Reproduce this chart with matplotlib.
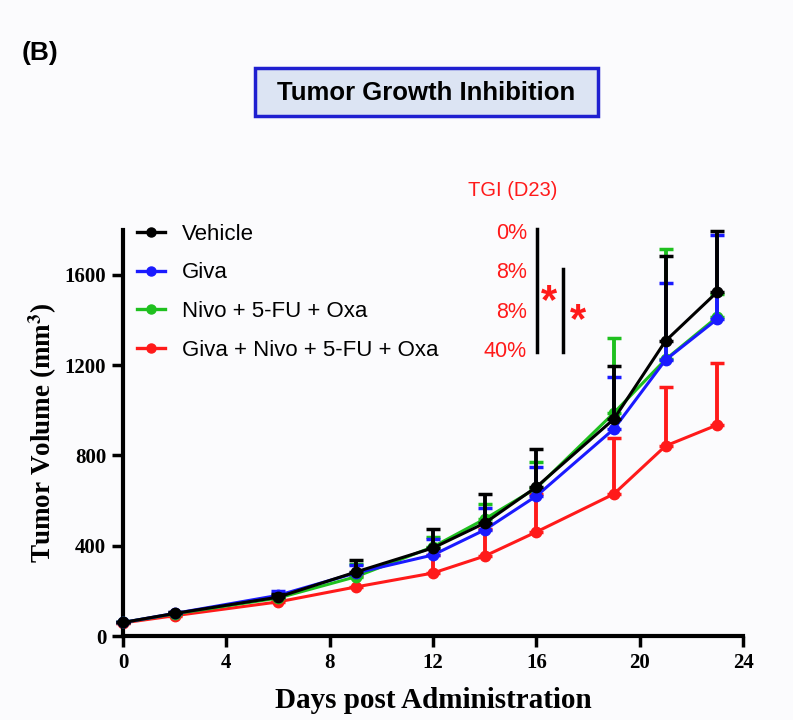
import matplotlib
matplotlib.use("Agg")
import matplotlib.pyplot as plt
import numpy as np
from matplotlib.lines import Line2D
from matplotlib.patches import Rectangle

plt.rcParams['mathtext.fontset'] = 'stix'

days = [0, 2, 6, 9, 12, 14, 16, 19, 21, 23]

vehicle = [60, 100, 172, 283, 390, 500, 660, 961, 1307, 1524]
vehicle_err = [0, 5, 15, 54, 84, 129, 168, 235, 377, 270]

giva = [60, 100, 180, 279, 359, 470, 620, 917, 1223, 1404]
giva_err = [0, 5, 18, 36, 71, 97, 128, 230, 341, 373]

nivo = [60, 98, 168, 262, 395, 518, 655, 988, 1225, 1413]
nivo_err = [0, 5, 12, 56, 44, 67, 116, 332, 490, 100]

combo = [58, 90, 151, 217, 279, 354, 461, 629, 842, 935]
combo_err = [0, 5, 10, 50, 80, 120, 170, 248, 261, 275]

labels = ["Vehicle", "Giva", "Nivo + 5-FU + Oxa", "Giva + Nivo + 5-FU + Oxa"]
tgi = ["0%", "8%", "8%", "40%"]
colors = ["#000000", "#1a1aff", "#1fc01f", "#ff1a1a"]

W, H = 793, 720
fig = plt.figure(figsize=(W / 100, H / 100), dpi=100)
fig.patch.set_facecolor('#fbfbfd')

def fx(px):
    return px / W

def fy(py):
    return 1 - py / H

ax = fig.add_axes([fx(123), fy(636), fx(743) - fx(123), fy(229.7) - fy(636)])
ax.set_facecolor('none')

series = [
    (combo, combo_err, colors[3], 2),
    (nivo, nivo_err, colors[2], 3),
    (giva, giva_err, colors[1], 4),
    (vehicle, vehicle_err, colors[0], 5),
]
for vals, err, c, z in series:
    v = np.array(vals, dtype=float)
    e = np.array(err, dtype=float)
    ax.errorbar(days, v, yerr=[np.zeros_like(e), e], color=c, lw=2.2,
                marker='o', ms=7.5, capsize=5, capthick=2.5, elinewidth=2.8,
                zorder=z, clip_on=False)

ax.set_xlim(0, 24)
ax.set_ylim(0, 1800)
ax.set_xticks(np.arange(0, 25, 4))
ax.set_yticks(np.arange(0, 1601, 400))
for s in ['top', 'right']:
    ax.spines[s].set_visible(False)
for s in ['left', 'bottom']:
    ax.spines[s].set_linewidth(3)
ax.tick_params(direction='out', length=8, width=2.5, pad=4)
for lab in ax.get_xticklabels() + ax.get_yticklabels():
    lab.set_fontfamily('Liberation Serif')
    lab.set_fontweight('bold')
    lab.set_fontsize(15)

ax.set_xlabel('Days post Administration', fontfamily='Liberation Serif',
              fontweight='bold', fontsize=21, labelpad=10)
ax.set_ylabel(r'Tumor Volume (mm$^\mathbf{3}$)', fontfamily='Liberation Serif',
              fontweight='bold', fontsize=19.5, labelpad=4)

# legend
handles = [Line2D([0], [0], color=c, lw=2.4, marker='o', ms=6.5) for c in colors]
fig.legend(handles, labels, loc='upper left', bbox_to_anchor=(fx(137), fy(223.5)),
           frameon=False, prop={'family': 'Liberation Sans', 'size': 16},
           handlelength=1.26, handletextpad=0.77, labelspacing=0.8,
           borderpad=0, borderaxespad=0)

# TGI annotations
fig.text(fx(513), fy(191), 'TGI (D23)', color='#ff1a1a', fontsize=14.5,
         family='Liberation Sans', ha='center', va='center')
for i, t in enumerate(tgi):
    fig.text(fx(527), fy(234 + 39 * i), t, color='#ff1a1a', fontsize=15.5,
             family='Liberation Sans', ha='right', va='center')
fig.add_artist(Line2D([fx(537), fx(537)], [fy(229), fy(352)], color='black', lw=2.5))
fig.add_artist(Line2D([fx(563), fx(563)], [fy(269), fy(352)], color='black', lw=2.5))
fig.text(fx(549), fy(302), '*', color='#ff1a1a', fontsize=30, fontweight='bold',
         family='Liberation Sans', ha='center', va='center')
fig.text(fx(578), fy(321), '*', color='#ff1a1a', fontsize=30, fontweight='bold',
         family='Liberation Sans', ha='center', va='center')

# title box
fig.add_artist(Rectangle((fx(255), fy(116)), fx(598) - fx(255), fy(68) - fy(116),
                         transform=fig.transFigure, facecolor='#dce4f3',
                         edgecolor='#1f1fd0', lw=2.5))
fig.text(fx(426), fy(93), 'Tumor Growth Inhibition', fontsize=18.5, fontweight='bold',
         family='Liberation Sans', ha='center', va='center')
fig.text(fx(22), fy(53), '(B)', fontsize=19, fontweight='bold',
         family='Liberation Sans', ha='left', va='center')

fig.savefig('out.png', dpi=100, facecolor=fig.get_facecolor())
